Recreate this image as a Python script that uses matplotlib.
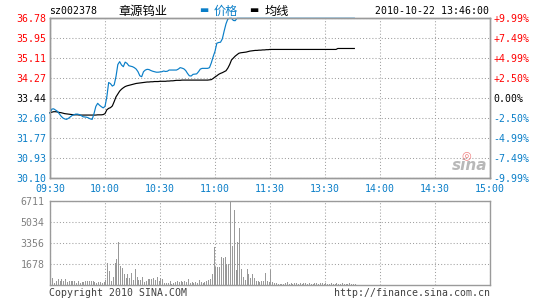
import matplotlib
matplotlib.use('Agg')
import matplotlib.pyplot as plt

# ---------------- data ----------------
time_labels = ['09:30', '10:00', '10:30', '11:00', '11:30', '13:30', '14:00', '14:30', '15:00']
price_ticks = [36.78, 35.95, 35.11, 34.27, 33.44, 32.60, 31.77, 30.93, 30.10]
pct_labels = ['+9.99%', '+7.49%', '+4.99%', '+2.50%', '0.00%', '-2.50%', '-4.99%', '-7.49%', '-9.99%']
vol_ticks = [1678, 3356, 5034, 6711]

price = [
    32.81, 32.99, 33.00, 32.95, 32.90, 32.80, 32.70, 32.62, 32.58, 32.56,
    32.60, 32.66, 32.72, 32.75, 32.78, 32.78, 32.76, 32.72, 32.67, 32.66,
    32.65, 32.62, 32.58, 32.56, 32.80, 33.10, 33.23, 33.15, 33.09, 33.04,
    33.10, 33.50, 34.10, 34.05, 33.95, 34.00, 34.35, 34.85, 34.97, 34.83,
    34.76, 34.95, 34.90, 34.80, 34.78, 34.76, 34.72, 34.66, 34.55, 34.38,
    34.34, 34.55, 34.62, 34.65, 34.64, 34.60, 34.57, 34.55, 34.53, 34.53,
    34.54, 34.55, 34.58, 34.56, 34.57, 34.62, 34.62, 34.62, 34.62, 34.62,
    34.66, 34.72, 34.70, 34.67, 34.60, 34.48, 34.38, 34.37, 34.44, 34.45,
    34.46, 34.55, 34.66, 34.69, 34.69, 34.69, 34.69, 34.72, 34.92, 35.18,
    35.40, 35.74, 35.77, 35.78, 35.92, 36.25, 36.55, 36.75, 36.78, 36.78,
    36.69, 36.68, 36.78, 36.78, 36.78, 36.78, 36.78, 36.78, 36.78, 36.78,
    36.78, 36.78, 36.78, 36.78, 36.78, 36.78, 36.78, 36.78, 36.78, 36.78,
    36.78, 36.78, 36.78, 36.78, 36.78, 36.78, 36.78, 36.78, 36.78, 36.78,
    36.78, 36.78, 36.78, 36.78, 36.78, 36.78, 36.78, 36.78, 36.78, 36.78,
    36.78, 36.78, 36.78, 36.78, 36.78, 36.78, 36.78, 36.78, 36.78, 36.78,
    36.78, 36.78, 36.78, 36.78, 36.78, 36.78, 36.78, 36.78, 36.78, 36.78,
    36.78, 36.78, 36.78, 36.78, 36.78, 36.78, 36.78,
]

avg_price = [
    32.84, 32.86, 32.88, 32.88, 32.87, 32.85, 32.84, 32.82, 32.80, 32.79,
    32.78, 32.77, 32.76, 32.75, 32.75, 32.75, 32.74, 32.74, 32.74, 32.74,
    32.74, 32.74, 32.74, 32.74, 32.74, 32.74, 32.75, 32.75, 32.75, 32.76,
    32.80, 32.96, 33.02, 33.05, 33.12, 33.30, 33.50, 33.62, 33.74, 33.82,
    33.88, 33.93, 33.96, 33.98, 34.00, 34.02, 34.04, 34.06, 34.07, 34.08,
    34.09, 34.10, 34.11, 34.12, 34.12, 34.13, 34.13, 34.14, 34.14, 34.14,
    34.15, 34.15, 34.15, 34.15, 34.16, 34.16, 34.17, 34.17, 34.18, 34.19,
    34.19, 34.19, 34.20, 34.20, 34.20, 34.20, 34.20, 34.20, 34.20, 34.20,
    34.20, 34.20, 34.20, 34.20, 34.20, 34.20, 34.20, 34.21, 34.22, 34.27,
    34.33, 34.38, 34.44, 34.48, 34.51, 34.55, 34.59, 34.70, 34.85, 35.04,
    35.12, 35.20, 35.26, 35.32, 35.34, 35.35, 35.36, 35.37, 35.39, 35.41,
    35.42, 35.43, 35.44, 35.44, 35.45, 35.45, 35.46, 35.46, 35.47, 35.47,
    35.48, 35.48, 35.48, 35.48, 35.48, 35.48, 35.48, 35.48, 35.48, 35.48,
    35.48, 35.48, 35.48, 35.48, 35.48, 35.48, 35.48, 35.48, 35.48, 35.48,
    35.48, 35.48, 35.48, 35.48, 35.48, 35.48, 35.48, 35.48, 35.48, 35.48,
    35.48, 35.48, 35.48, 35.48, 35.48, 35.48, 35.48, 35.52, 35.52, 35.52,
    35.52, 35.52, 35.52, 35.52, 35.52, 35.52, 35.52,
]

volume = [
    612, 612, 160, 346, 506, 346, 506, 346, 506, 240,
    346, 346, 346, 346, 160, 346, 160, 240, 293, 346,
    346, 346, 346, 346, 240, 160, 240, 240, 160, 240,
    426, 1758, 1145, 346, 692, 1758, 2104, 3435, 1571, 1411,
    879, 612, 879, 612, 959, 426, 1300, 690, 425, 425,
    690, 240, 346, 506, 506, 506, 612, 426, 692, 346,
    560, 500, 160, 160, 160, 346, 80, 160, 240, 346,
    240, 346, 240, 346, 240, 506, 160, 240, 160, 240,
    160, 426, 240, 160, 240, 346, 426, 506, 900, 3090,
    1490, 1490, 1490, 2290, 2157, 2264, 1678, 1678, 6711, 3169,
    6018, 1225, 3488, 4607, 1305, 692, 426, 1305, 879, 612,
    879, 612, 346, 346, 240, 346, 346, 959, 346, 240,
    1225, 240, 160, 160, 80, 80, 80, 80, 160, 240,
    120, 160, 120, 200, 160, 120, 160, 120, 160, 200,
    120, 160, 120, 120, 160, 160, 120, 160, 160, 120,
    200, 120, 120, 160, 120, 120, 160, 120, 120, 160,
    120, 120, 120, 160, 120, 120, 120,
]

# ---------------- style ----------------
W, H = 545, 300
BLUE = '#0a7ec8'
RED = '#ff0000'
GRID = '#a0a0a0'
BORDER = '#9a9a9a'
MONO = 'DejaVu Sans Mono'
CJK = ['Noto Sans CJK SC', 'DejaVu Sans']
FS = 7.1


def fx(x):
    return x / W


def fy(y):
    return 1 - y / H


fig = plt.figure(figsize=(W / 100, H / 100), dpi=100)
fig.patch.set_facecolor('white')

axp = fig.add_axes([fx(50), fy(178.3), 440 / W, 160 / H])
axv = fig.add_axes([fx(50), fy(285.3), 440 / W, 84 / H])

grid_style = dict(color=GRID, linestyle=(0, (1, 2)), linewidth=0.75)

# ---- price panel ----
xs = list(range(len(price)))
axp.plot(xs, price, color=BLUE, lw=0.85, clip_on=False, zorder=5)
axp.plot(list(range(len(avg_price))), avg_price, color='black', lw=0.85, clip_on=False, zorder=4)
axp.set_xlim(0, 240)
axp.set_ylim(price_ticks[-1], price_ticks[0])
axp.set_xticks(range(0, 241, 30))
axp.set_xticklabels(time_labels)
axp.set_yticks(price_ticks)
axp.set_yticklabels([f'{v:.2f}' for v in price_ticks])
axp.grid(True, **grid_style)
axp.tick_params(length=0, labelsize=FS)
axp.tick_params(axis='y', pad=3.0)
axp.tick_params(axis='x', pad=4.0, labelcolor=BLUE)
for lab in axp.get_xticklabels() + axp.get_yticklabels():
    lab.set_fontfamily(MONO)
for lab, v in zip(axp.get_yticklabels(), price_ticks):
    lab.set_color(RED if v > 33.44 else ('black' if v == 33.44 else BLUE))

axr = axp.twinx()
axr.set_ylim(axp.get_ylim())
axr.set_yticks(price_ticks)
axr.set_yticklabels(pct_labels)
axr.tick_params(length=0, labelsize=FS, pad=2.2)
for lab, v in zip(axr.get_yticklabels(), price_ticks):
    lab.set_fontfamily(MONO)
    lab.set_color(RED if v > 33.44 else ('black' if v == 33.44 else BLUE))

for ax in (axp, axr):
    for s in ax.spines.values():
        s.set_color(BORDER)
        s.set_linewidth(1.0)

# ---- volume panel ----
axv.bar([i + 0.5 for i in range(len(volume))], volume, width=0.6, color='#999999', linewidth=0)
axv.set_xlim(0, 240)
axv.set_ylim(0, vol_ticks[-1])
axv.set_xticks(range(0, 241, 30))
axv.set_xticklabels([])
axv.set_yticks(vol_ticks)
axv.set_yticklabels([str(v) for v in vol_ticks])
axv.grid(True, **grid_style)
axv.set_axisbelow(True)
axv.tick_params(length=0, labelsize=FS, labelcolor='#808080', pad=4.0)
for lab in axv.get_yticklabels():
    lab.set_fontfamily(MONO)
for s in axv.spines.values():
    s.set_color(BORDER)
    s.set_linewidth(1.0)

# ---- header ----
fig.text(fx(49), fy(11.5), 'sz002378', fontsize=FS, family=MONO, color='black', va='center', ha='left')
fig.text(fx(118), fy(11.5), '章源钨业', fontsize=8.8, family=CJK, color='black', va='center', ha='left')
fig.text(fx(199), fy(10.5), '▬', fontsize=7, family=['DejaVu Sans'], color=BLUE, va='center', ha='left')
fig.text(fx(214), fy(11.5), '价格', fontsize=8.8, family=CJK, color=BLUE, va='center', ha='left')
fig.text(fx(249), fy(10.5), '▬', fontsize=7, family=['DejaVu Sans'], color='black', va='center', ha='left')
fig.text(fx(265), fy(11.5), '均线', fontsize=8.8, family=CJK, color='black', va='center', ha='left')
fig.text(fx(489), fy(11.5), '2010-10-22 13:46:00', fontsize=FS, family=MONO, color='black', va='center', ha='right')

# ---- footer ----
fig.text(fx(49), fy(292.5), 'Copyright 2010 SINA.COM', fontsize=FS, family=MONO, color='#404040', va='center', ha='left')
fig.text(fx(490), fy(292.5), 'http://finance.sina.com.cn', fontsize=FS, family=MONO, color='#404040', va='center', ha='right')

# ---- sina watermark ----
fig.text(fx(470), fy(166), 'sina', fontsize=11, family=['DejaVu Sans'], fontweight='bold', style='italic',
         color='#b8b8b8', va='center', ha='center')
fig.text(fx(466), fy(155), '◎', fontsize=8, family=['DejaVu Sans'], color='#f08080', va='center', ha='center')

fig.savefig('out.png', dpi=100, facecolor='white')
